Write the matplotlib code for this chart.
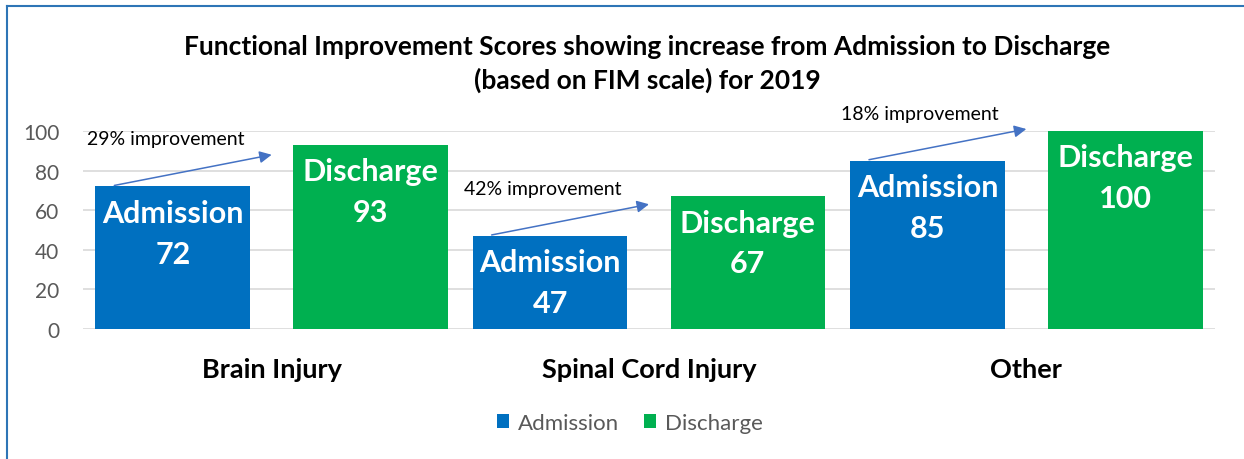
import numpy as np
import matplotlib.pyplot as plt
from matplotlib.lines import Line2D

categories = ['Brain Injury', 'Spinal Cord Injury', 'Other']
admission = [72, 47, 85]
discharge = [93, 67, 100]
improvement = ['29% improvement', '42% improvement', '18% improvement']
yticks = [0, 20, 40, 60, 80, 100]

plt.rcParams['font.family'] = ['Lato', 'DejaVu Sans']

blue = '#0070C0'
green = '#00B050'
arrow_col = '#4472C4'
grey = '#595959'

fig = plt.figure(figsize=(12.44, 4.6), dpi=100)
ax = fig.add_axes([83/1244, 1-330/460, (1215-83)/1244, (330-132)/460])

x = np.arange(len(categories))
w = 0.41
off = 0.262
b1 = ax.bar(x - off, admission, w, color=blue, label='Admission', zorder=2)
b2 = ax.bar(x + off, discharge, w, color=green, label='Discharge', zorder=2)

ax.set_xlim(-0.5, len(categories) - 0.5)
ax.set_ylim(0, 100)
ax.set_yticks(yticks)
ax.yaxis.grid(True, color='#d9d9d9', linewidth=1.2, zorder=0)
ax.set_axisbelow(True)
for s in ax.spines.values():
    s.set_visible(False)
ax.tick_params(axis='y', length=0, labelsize=15, labelcolor=grey, pad=17)
ax.tick_params(axis='x', length=0, pad=20)
ax.set_xticks(x)
ax.set_xticklabels(categories, fontsize=19.5, fontweight='bold', color='black')

# labels inside bars
for bars, name, vals in [(b1, 'Admission', admission), (b2, 'Discharge', discharge)]:
    for r, v in zip(bars, vals):
        ax.annotate(f'{name}\n{v}', (r.get_x() + r.get_width()/2, v),
                    xytext=(0, -9), textcoords='offset points',
                    ha='center', va='top', color='white', fontsize=22,
                    fontweight='bold', linespacing=1.55)

# improvement arrows
for i in range(len(categories)):
    a = admission[i]
    ax.annotate('', xy=(x[i] + 0.0, a + 16), xytext=(x[i] - off - w/2 + 0.05, a + 0.5),
                arrowprops=dict(arrowstyle='-|>', color=arrow_col, lw=1.1,
                                mutation_scale=18, shrinkA=0, shrinkB=0),
                annotation_clip=False)
    ax.text(x[i] - 0.49, a + 24, improvement[i], ha='left', va='center',
            fontsize=14, color='black', clip_on=False)

fig.text(647/1244, 1 - 47/460, 'Functional Improvement Scores showing increase from Admission to Discharge',
         ha='center', va='center', fontsize=19, fontweight='bold')
fig.text(647/1244, 1 - 80/460, '(based on FIM scale) for 2019',
         ha='center', va='center', fontsize=19, fontweight='bold')

fig.legend(handles=[b1, b2], loc='center', bbox_to_anchor=(630/1244, 1 - 424/460),
           ncol=2, frameon=False, fontsize=16, labelcolor=grey,
           handlelength=0.55, handleheight=0.55, handletextpad=0.4, columnspacing=1.1)

# chart frame (left and top edges)
fig.add_artist(Line2D([7/1244, 7/1244], [0, 1 - 7/460], color='#2E75B6', lw=1.5))
fig.add_artist(Line2D([7/1244, 1], [1 - 7/460, 1 - 7/460], color='#2E75B6', lw=1.5))

fig.savefig('out.png', dpi=100)
